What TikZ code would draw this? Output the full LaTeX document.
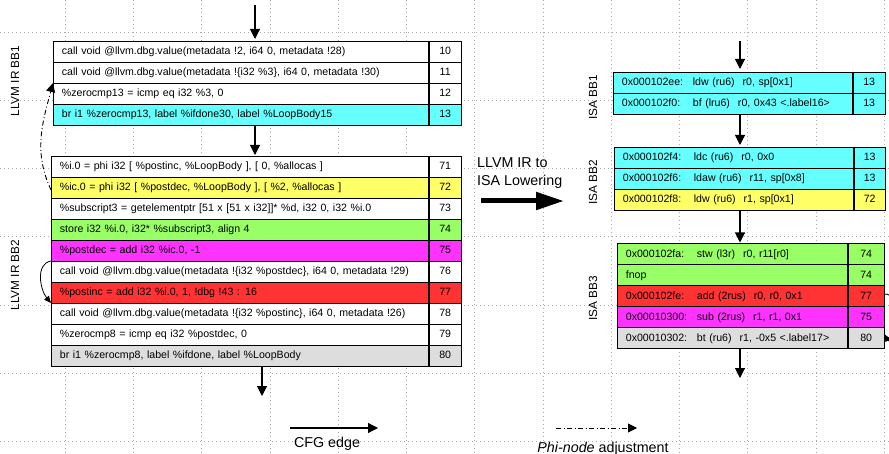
\documentclass[tikz,border=0pt]{standalone}
\usepackage{fontspec}
\setmainfont{Liberation Sans}
\usetikzlibrary{arrows.meta}
\definecolor{ccyan}{HTML}{66FFFF}
\definecolor{cyellow}{HTML}{FFFF66}
\definecolor{cgreen}{HTML}{99FF66}
\definecolor{cmagenta}{HTML}{FF33FF}
\definecolor{cred}{HTML}{FF3333}
\definecolor{cgray}{HTML}{DDDDDD}
\definecolor{gridc}{HTML}{AAAAAA}
\tikzset{
  txtcell/.style={draw=black, line width=0.8pt, anchor=north west, minimum height=21pt,
    inner xsep=8.5pt, inner ysep=0pt, align=left, font=\fontsize{10.6}{12}\selectfont,
    text height=7.8pt, text depth=2.3pt},
  numcell/.style={draw=black, line width=0.8pt, anchor=north west, minimum height=21pt,
    inner sep=0pt, align=center, font=\fontsize{10.6}{12}\selectfont,
    text height=7.8pt, text depth=2.3pt},
  cfg/.style={line width=1.1pt, -{Triangle[length=10pt,width=10pt]}},
  phiarrow/.style={line width=0.9pt, dash pattern=on 5pt off 2.5pt on 1pt off 2.5pt, -{Triangle[length=9pt,width=9pt]}},
  bblabel/.style={rotate=90, font=\fontsize{11.8}{13}\selectfont},
  bigtext/.style={font=\fontsize{14.3}{18}\selectfont},
  gridline/.style={gridc, line width=0.5pt, dash pattern=on 0.8pt off 3.2pt}
}
% #1 name, #2 x, #3 y, #4 text width, #5 number-cell width, #6 fill, #7 text, #8 number
\newcommand\cellrow[8]{%
  \node[txtcell, fill=#6, text width=#4pt] (#1) at (#2,#3) {#7};
  \node[numcell, fill=#6, minimum width=#5pt] (#1n) at (#1.north east) {#8};
}
\newcommand\isa[3]{\makebox[71pt][l]{#1}#2\hspace{8pt}#3}
\begin{document}
\begin{tikzpicture}[x=1pt, y=-1pt]
\useasboundingbox (0,0) rectangle (889,454);
\clip (0,0) rectangle (889,454);
\fill[white] (0,0) rectangle (889,454);
% grid
\foreach \gx in {65,133.25,201.5,269.75,338,406.25,474.5,542.75,611,679.25,747.5,815.75,884}
  \draw[gridline] (\gx,0) -- (\gx,454);
\foreach \gy in {32,100.2,168.4,236.6,304.8,373,441.2}
  \draw[gridline] (0,\gy) -- (889,\gy);

% ---------- LLVM IR BB1 ----------
\cellrow{a1}{53}{41}{358}{32}{white}{call void @llvm.dbg.value(metadata !2, i64 0, metadata !28)}{10}
\cellrow{a2}{53}{62}{358}{32}{white}{call void @llvm.dbg.value(metadata !\{i32 \%3\}, i64 0, metadata !30)}{11}
\cellrow{a3}{53}{83}{358}{32}{white}{\%zerocmp13 = icmp eq i32 \%3, 0}{12}
\cellrow{a4}{53}{104}{358}{32}{ccyan}{br i1 \%zerocmp13, label \%ifdone30, label \%LoopBody15}{13}

% ---------- LLVM IR BB2 ----------
\cellrow{b1}{51}{156}{360}{32}{white}{\%i.0 = phi i32 [ \%postinc, \%LoopBody ], [ 0, \%allocas ]}{71}
\cellrow{b2}{51}{177}{360}{32}{cyellow}{\%ic.0 = phi i32 [ \%postdec, \%LoopBody ], [ \%2, \%allocas ]}{72}
\cellrow{b3}{51}{198}{360}{32}{white}{\%subscript3 = getelementptr [51 x [51 x i32]]* \%d, i32 0, i32 \%i.0}{73}
\cellrow{b4}{51}{219}{360}{32}{cgreen}{store i32 \%i.0, i32* \%subscript3, align 4}{74}
\cellrow{b5}{51}{240}{360}{32}{cmagenta}{\%postdec = add i32 \%ic.0, -1}{75}
\cellrow{b6}{51}{261}{360}{32}{white}{call void @llvm.dbg.value(metadata !\{i32 \%postdec\}, i64 0, metadata !29)}{76}
\cellrow{b7}{51}{282}{360}{32}{cred}{\%postinc = add i32 \%i.0, 1, !dbg !43 : 16}{77}
\cellrow{b8}{51}{303}{360}{32}{white}{call void @llvm.dbg.value(metadata !\{i32 \%postinc\}, i64 0, metadata !26)}{78}
\cellrow{b9}{51}{324}{360}{32}{white}{\%zerocmp8 = icmp eq i32 \%postdec, 0}{79}
\cellrow{b10}{51}{345}{360}{32}{cgray}{br i1 \%zerocmp8, label \%ifdone, label \%LoopBody}{80}

% ---------- ISA BB1 ----------
\cellrow{c1}{613}{72}{222}{32}{ccyan}{\isa{0x000102ee:}{ldw (ru6)}{r0, sp[0x1]}}{13}
\cellrow{c2}{613}{93}{222}{32}{ccyan}{\isa{0x000102f0:}{bf (lru6)}{r0, 0x43 <.label16>}}{13}
% ---------- ISA BB2 ----------
\cellrow{d1}{614}{147}{222}{31}{ccyan}{\isa{0x000102f4:}{ldc (ru6)}{r0, 0x0}}{13}
\cellrow{d2}{614}{168}{222}{31}{ccyan}{\isa{0x000102f6:}{ldaw (ru6)}{r11, sp[0x8]}}{13}
\cellrow{d3}{614}{189}{222}{31}{cyellow}{\isa{0x000102f8:}{ldw (ru6)}{r1, sp[0x1]}}{72}
% ---------- ISA BB3 ----------
\cellrow{e1}{617}{243.5}{213}{36}{cgreen}{\isa{0x000102fa:}{stw (l3r)}{r0, r11[r0]}}{74}
\cellrow{e2}{617}{264.5}{213}{36}{cgreen}{fnop}{74}
\cellrow{e3}{617}{285.5}{213}{36}{cred}{\isa{0x000102fe:}{add (2rus)}{r0, r0, 0x1}}{77}
\cellrow{e4}{617}{306.5}{213}{36}{cmagenta}{\isa{0x00010300:}{sub (2rus)}{r1, r1, 0x1}}{75}
\cellrow{e5}{617}{327.5}{213}{36}{cgray}{\isa{0x00010302:}{bt (ru6)}{r1, -0x5 <.label17>}}{80}

% ---------- labels ----------
\node[bblabel] (lab1) at (15,81) {LLVM IR BB1};
\node[bblabel] (lab2) at (15,275) {LLVM IR BB2};
\node[bblabel] (lab3) at (593,97) {ISA BB1};
\node[bblabel] (lab4) at (593,182) {ISA BB2};
\node[bblabel] (lab5) at (593,298) {ISA BB3};
\node[bigtext, align=left, anchor=north west, inner sep=0pt] (lower) at (477,157) {LLVM IR to\\ISA Lowering};

% ---------- CFG edges ----------
\coordinate (ta) at (255,5);
\coordinate (ba) at (262,396);
\coordinate (tb) at (740,41);
\coordinate (bb) at (740,378);
\draw[cfg, shorten >=2pt] (ta) -- (ta |- a1.north);
\draw[cfg, shorten >=1pt] (255,125) -- (255,156);
\draw[cfg] (ba |- b10.south) -- (ba);
\draw[cfg, shorten >=3pt] (tb) -- (tb |- c1.north);
\draw[cfg, shorten >=2pt] (tb |- c2.south) -- (tb |- d1.north);
\draw[cfg, shorten >=1pt] (tb |- d3.south) -- (tb |- e1.north);
\draw[cfg] (tb |- e5.south) -- (bb);

% left loop edge
\draw[line width=0.8pt, -{Triangle[length=7pt,width=6pt]}] (b6.north west) to[out=190, in=130] (b8.north west);
% right loop edge
\draw[line width=0.8pt, -{Triangle[length=7pt,width=6pt]}] ([yshift=2pt]e3n.east) to[out=20, in=-60] ([yshift=4pt]e5n.east);
% phi-node adjustment
\draw[phiarrow] ([yshift=-2pt]b2.west) to[out=115, in=-105] (a3.north west);

% big lowering arrow
\coordinate (la) at (481,201);
\coordinate (lb) at (564,201);
\draw[line width=5pt, -{Triangle[length=28pt,width=17pt]}] (la) -- (lb);

% ---------- legend ----------
\coordinate (l1) at (290,428);
\coordinate (l2) at (378,428);
\draw[cfg] (l1) -- (l2);
\node[bigtext, anchor=base] (lcfg) at (327,447) {CFG edge};
\coordinate (l3) at (556,428);
\coordinate (l4) at (637,428);
\draw[phiarrow] (l3) -- (l4);
\node[bigtext, anchor=base] (lphi) at (603,452) {\textit{Phi-node} adjustment};
\end{tikzpicture}
\end{document}
